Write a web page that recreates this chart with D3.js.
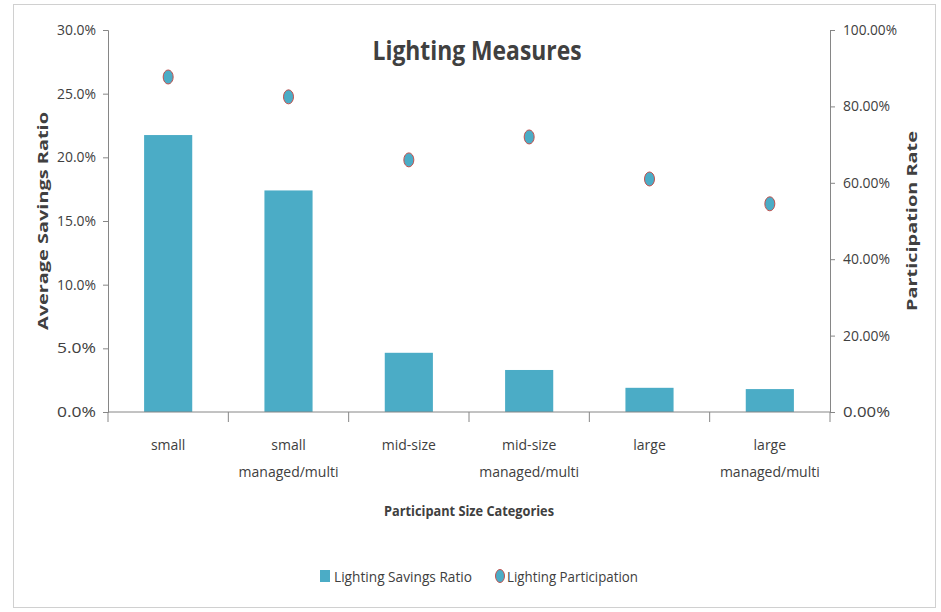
<!DOCTYPE html>
<html>
<head>
<meta charset="utf-8">
<script src="https://cdn.jsdelivr.net/npm/d3@7"></script>
<style>
  html, body { margin: 0; padding: 0; background: #ffffff; }
  svg { display: block; }
  text { font-family: "Open Sans", "Liberation Sans", sans-serif; fill: #404040; }
</style>
</head>
<body>
<svg id="chart" width="941" height="612"></svg>
<script>
// Lighting measures by participant size category
const categories = [
  ["small"],
  ["small", "managed/multi"],
  ["mid-size"],
  ["mid-size", "managed/multi"],
  ["large"],
  ["large", "managed/multi"]
];
const savingsRatio = [0.2175, 0.174, 0.0465, 0.033, 0.019, 0.018];
const participation = [0.877, 0.825, 0.66, 0.72, 0.61, 0.545];
const leftTicks = [0, 0.05, 0.10, 0.15, 0.20, 0.25, 0.30];
const rightTicks = [0, 0.2, 0.4, 0.6, 0.8, 1.0];

const svg = d3.select("#chart");
const m = { left: 108, right: 830, top: 30, bottom: 412 };
const barColor = "#4BACC6";
const markerStroke = "#C0504D";
const axisColor = "#868686";

// chart frame
svg.append("rect")
  .attr("x", 13.5).attr("y", 4.5).attr("width", 922).attr("height", 603)
  .attr("fill", "#fff").attr("stroke", "#d0d0d0");

const x = d3.scaleBand().domain(d3.range(categories.length))
  .range([m.left, m.right]).paddingInner(0.6).paddingOuter(0.3);
const xCat = d3.scaleBand().domain(d3.range(categories.length))
  .range([m.left, m.right]);
const yL = d3.scaleLinear().domain([0, 0.30]).range([m.bottom, m.top]);
const yR = d3.scaleLinear().domain([0, 1.0]).range([m.bottom, m.top]);

// bars
svg.append("g").selectAll("rect").data(savingsRatio).join("rect")
  .attr("x", (d, i) => x(i))
  .attr("width", x.bandwidth())
  .attr("y", d => yL(d))
  .attr("height", d => yL(0) - yL(d))
  .attr("fill", barColor);

// left axis
const axL = svg.append("g").attr("transform", `translate(${m.left},0)`)
  .call(d3.axisLeft(yL).tickValues(leftTicks).tickFormat(d3.format(".1%")).tickSize(5).tickPadding(7));
axL.selectAll("text").attr("font-size", 14).attr("fill", "#404040").attr("font-family", "Open Sans, sans-serif")
  .attr("textLength", 39).attr("lengthAdjust", "spacingAndGlyphs");

// right axis
const axR = svg.append("g").attr("transform", `translate(${m.right},0)`)
  .call(d3.axisRight(yR).tickValues(rightTicks).tickFormat(d3.format(".2%")).tickSize(5).tickPadding(8));
axR.selectAll("text").attr("font-size", 14).attr("fill", "#404040").attr("font-family", "Open Sans, sans-serif")
  .attr("textLength", d => d === 1 ? 54 : 47).attr("lengthAdjust", "spacingAndGlyphs");

[axL, axR].forEach(a => {
  a.select(".domain").attr("stroke", axisColor);
  a.selectAll(".tick line").attr("stroke", axisColor);
});

// bottom axis: baseline with ticks at category boundaries
const gB = svg.append("g");
gB.append("line").attr("x1", m.left).attr("x2", m.right)
  .attr("y1", m.bottom).attr("y2", m.bottom).attr("stroke", axisColor);
gB.selectAll("line.tk").data(d3.range(categories.length + 1)).join("line")
  .attr("class", "tk")
  .attr("x1", i => i < categories.length ? xCat(i) : m.right)
  .attr("x2", i => i < categories.length ? xCat(i) : m.right)
  .attr("y1", m.bottom).attr("y2", m.bottom + 10).attr("stroke", axisColor);

// category labels
const catLabel = gB.selectAll("text.cat").data(categories).join("text")
  .attr("class", "cat")
  .attr("x", (d, i) => xCat(i) + xCat.bandwidth() / 2)
  .attr("y", 450)
  .attr("text-anchor", "middle")
  .attr("font-size", 14);
catLabel.selectAll("tspan").data(d => d).join("tspan")
  .attr("x", function () { return d3.select(this.parentNode).attr("x"); })
  .attr("dy", (d, j) => j === 0 ? 0 : 27)
  .text(d => d);

// participation markers
svg.append("g").selectAll("ellipse").data(participation).join("ellipse")
  .attr("cx", (d, i) => xCat(i) + xCat.bandwidth() / 2)
  .attr("cy", d => yR(d))
  .attr("rx", 5).attr("ry", 7)
  .attr("fill", barColor)
  .attr("stroke", markerStroke).attr("stroke-width", 1);

// title
svg.append("text").attr("x", 477).attr("y", 60).attr("text-anchor", "middle")
  .attr("font-size", 27).attr("font-weight", "bold").attr("fill", "#000")
  .attr("textLength", 209).attr("lengthAdjust", "spacingAndGlyphs")
  .text("Lighting Measures");

// axis titles
svg.append("text").attr("transform", "translate(48,221) rotate(-90)")
  .attr("text-anchor", "middle").attr("font-size", 13.5).attr("font-weight", "bold")
  .attr("fill", "#000").attr("font-family", "DejaVu Sans, sans-serif")
  .attr("textLength", 218).attr("lengthAdjust", "spacingAndGlyphs")
  .text("Average Savings  Ratio");

svg.append("text").attr("transform", "translate(917,221) rotate(-90)")
  .attr("text-anchor", "middle").attr("font-size", 13.5).attr("font-weight", "bold")
  .attr("fill", "#000").attr("font-family", "DejaVu Sans, sans-serif")
  .attr("textLength", 180).attr("lengthAdjust", "spacingAndGlyphs")
  .text("Participation  Rate");

svg.append("text").attr("x", 469).attr("y", 516).attr("text-anchor", "middle")
  .attr("font-size", 15).attr("font-weight", "bold").attr("fill", "#000")
  .attr("textLength", 170).attr("lengthAdjust", "spacingAndGlyphs")
  .text("Participant  Size Categories");

// legend
const lg = svg.append("g");
lg.append("rect").attr("x", 320).attr("y", 570).attr("width", 10).attr("height", 12).attr("fill", barColor);
lg.append("text").attr("x", 334).attr("y", 582).attr("font-size", 14)
  .attr("textLength", 138).attr("lengthAdjust", "spacingAndGlyphs")
  .text("Lighting Savings Ratio");
lg.append("ellipse").attr("cx", 500).attr("cy", 576).attr("rx", 4.5).attr("ry", 6.5)
  .attr("fill", barColor).attr("stroke", markerStroke);
lg.append("text").attr("x", 507).attr("y", 582).attr("font-size", 14)
  .attr("textLength", 131).attr("lengthAdjust", "spacingAndGlyphs")
  .text("Lighting Participation");
</script>
</body>
</html>
